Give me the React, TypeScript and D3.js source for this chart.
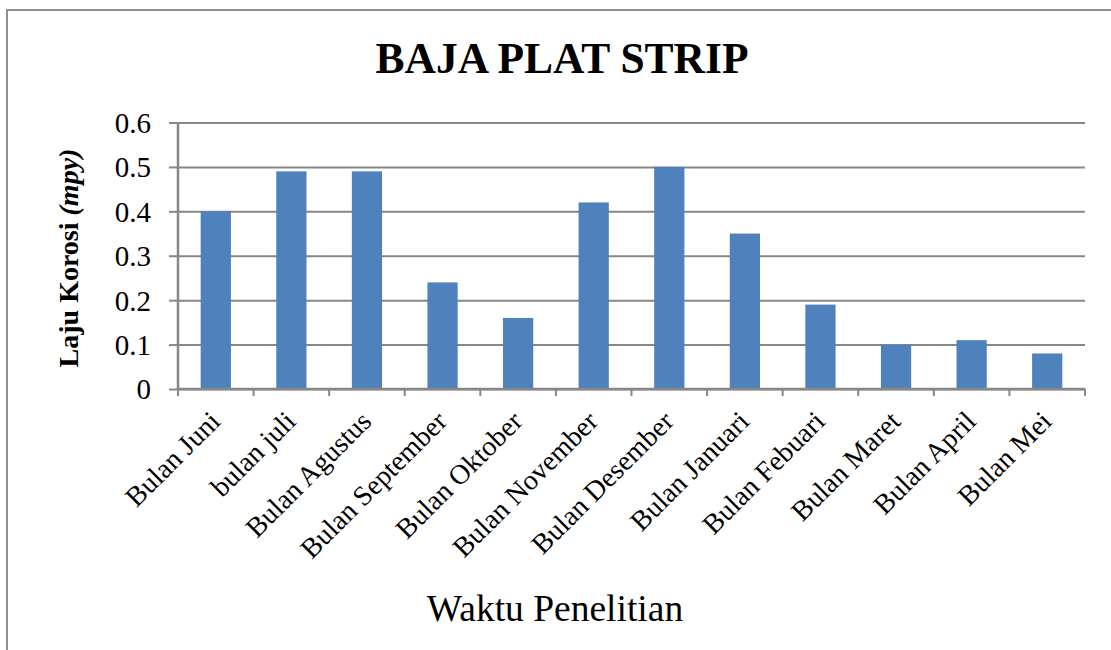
import { useRef, useEffect } from 'react'
import { select, scaleBand, scaleLinear, axisLeft } from 'd3'

const months = [
  'Bulan Juni',
  'bulan juli',
  'Bulan Agustus',
  'Bulan September',
  'Bulan Oktober',
  'Bulan November',
  'Bulan Desember',
  'Bulan Januari',
  'Bulan Febuari',
  'Bulan Maret',
  'Bulan April',
  'Bulan Mei',
]
const corrosionRate = [0.4, 0.49, 0.49, 0.24, 0.16, 0.42, 0.5, 0.35, 0.19, 0.1, 0.11, 0.08]
const yTicks = [0, 0.1, 0.2, 0.3, 0.4, 0.5, 0.6]

const title = 'BAJA PLAT STRIP'
const xAxisLabel = 'Waktu Penelitian'

const App = () => {
  const svgRef = useRef<SVGSVGElement>(null)

  useEffect(() => {
    const svg = select(svgRef.current)
    svg.selectAll('*').remove()

    const width = 1111
    const height = 650
    const margin = { top: 122.5, right: 26, bottom: 261, left: 178 }
    const innerWidth = width - margin.left - margin.right
    const innerHeight = height - margin.top - margin.bottom
    const font = "'Liberation Serif', 'Times New Roman', serif"
    const gray = '#878787'

    // outer frame of the chart object
    svg
      .append('rect')
      .attr('x', 7)
      .attr('y', 10)
      .attr('width', 1200)
      .attr('height', 800)
      .attr('fill', 'white')
      .attr('stroke', '#8e8e8e')
      .attr('stroke-width', 2)

    svg
      .append('text')
      .text(title)
      .attr('x', 562)
      .attr('y', 73)
      .attr('text-anchor', 'middle')
      .attr('font-family', font)
      .attr('font-weight', 'bold')
      .attr('font-size', 43.5)

    const g = svg
      .append('g')
      .attr('transform', `translate(${margin.left} ${margin.top})`)

    const xScale = scaleBand().domain(months).range([0, innerWidth]).paddingInner(0.6).paddingOuter(0.3)
    const xTickScale = scaleBand().domain(months).range([0, innerWidth])

    const yScale = scaleLinear().domain([0, 0.6]).range([innerHeight, 0])

    // gridlines + left axis
    const yAxisGroup = g
      .append('g')
      .call(axisLeft(yScale).tickValues(yTicks).tickFormat((d) => String(d)).tickSizeInner(-innerWidth).tickSizeOuter(0).tickPadding(27))
    yAxisGroup.select('.domain').remove()
    yAxisGroup.selectAll('.tick line').attr('stroke', gray).attr('stroke-width', 2)
    yAxisGroup
      .selectAll('.tick')
      .append('line')
      .attr('x1', -9)
      .attr('x2', 0)
      .attr('stroke', gray)
      .attr('stroke-width', 2)
    yAxisGroup
      .selectAll('.tick text')
      .attr('font-family', font)
      .attr('font-size', 29)
      .attr('fill', 'black')
      .attr('dy', '0.34em')

    g.append('line')
      .attr('x1', 0)
      .attr('x2', 0)
      .attr('y1', 0)
      .attr('y2', innerHeight)
      .attr('stroke', gray)
      .attr('stroke-width', 2.5)

    // bars
    g.selectAll('.bar')
      .data(corrosionRate)
      .enter()
      .append('rect')
      .attr('class', 'bar')
      .attr('x', (d, i) => xScale(months[i]))
      .attr('y', (d) => yScale(d))
      .attr('width', xScale.bandwidth())
      .attr('height', (d) => innerHeight - yScale(d))
      .attr('fill', '#4f81bd')

    // bottom axis: ticks at category boundaries
    const xAxisGroup = g.append('g').attr('transform', `translate(0, ${innerHeight})`)
    xAxisGroup
      .append('line')
      .attr('x1', 0)
      .attr('x2', innerWidth)
      .attr('stroke', gray)
      .attr('stroke-width', 2.5)
    const boundaries = months.map((m) => xTickScale(m)).concat([innerWidth])
    xAxisGroup
      .selectAll('.bound')
      .data(boundaries)
      .enter()
      .append('line')
      .attr('x1', (d) => d)
      .attr('x2', (d) => d)
      .attr('y1', 0)
      .attr('y2', 7)
      .attr('stroke', gray)
      .attr('stroke-width', 2)

    xAxisGroup
      .selectAll('.label')
      .data(months)
      .enter()
      .append('text')
      .text((d) => d)
      .attr('font-family', font)
      .attr('font-size', 28)
      .attr('text-anchor', 'end')
      .attr('transform', (d) => `translate(${xTickScale(d) + xTickScale.bandwidth() / 2 + 6}, 34) rotate(-45)`)

    // axis titles
    const yLabel = svg
      .append('text')
      .attr('transform', `translate(78, 258) rotate(-90)`)
      .attr('text-anchor', 'middle')
      .attr('font-family', font)
      .attr('font-weight', 'bold')
      .attr('font-size', 28)
    yLabel.append('tspan').text('Laju Korosi ')
    yLabel.append('tspan').attr('font-style', 'italic').text('(mpy)')

    svg
      .append('text')
      .text(xAxisLabel)
      .attr('x', 555)
      .attr('y', 621)
      .attr('text-anchor', 'middle')
      .attr('font-family', font)
      .attr('font-size', 37.5)
  }, [])

  return (
    <div>
      <svg
        ref={svgRef}
        width="1111"
        height="650"
        style={{ position: 'absolute', left: 0, top: 0, background: 'white' }}
      ></svg>
    </div>
  )
}

export default App
